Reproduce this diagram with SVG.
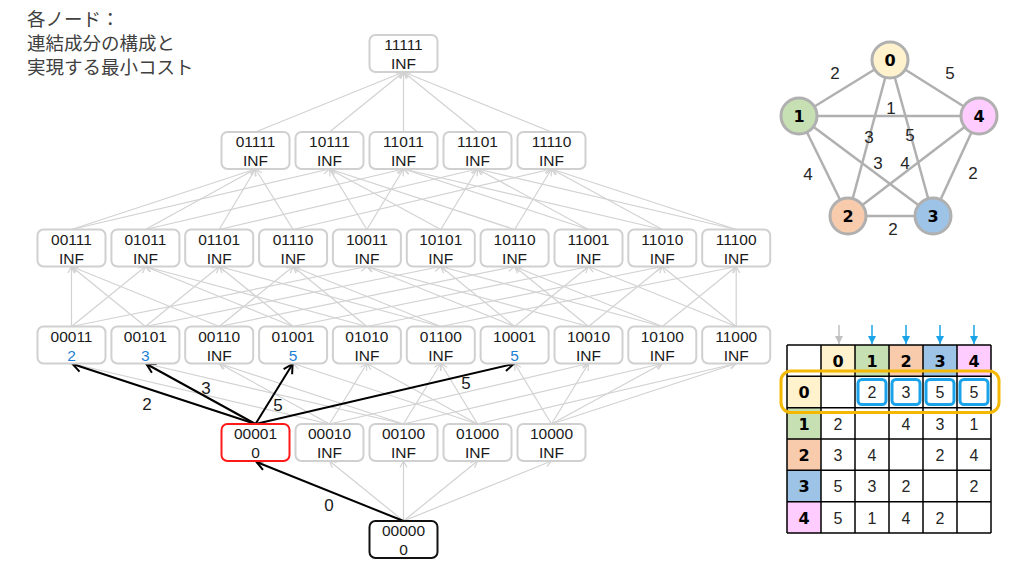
<svg xmlns="http://www.w3.org/2000/svg" width="1024" height="576" viewBox="0 0 1024 576">
<style>
.box{fill:#fff;stroke:#d0d0d0;stroke-width:2}
.t{font-family:"Liberation Sans",Arial,sans-serif;font-size:15.5px;fill:#1a1a1a;text-anchor:middle}
.blue{fill:#1e7fd6}
.g{stroke:#d2d2d2;stroke-width:1.2;fill:none;marker-end:url(#ag)}
.k{stroke:#000;stroke-width:2;fill:none;marker-end:url(#ak)}
.lbl{font-family:"Liberation Sans",Arial,sans-serif;font-size:17px;fill:#1a1a1a;text-anchor:middle}
.jp{font-family:"Liberation Sans","Noto Sans CJK JP",sans-serif;font-size:18.5px;fill:#404040}
.ge{stroke:#b0b0b0;stroke-width:2.5}
.gn{stroke:#b0b0b0;stroke-width:3}
.gl{font-family:"DejaVu Sans",sans-serif;font-weight:bold;font-size:16px;fill:#000;text-anchor:middle}
.wl{font-family:"Liberation Sans",Arial,sans-serif;font-size:17px;fill:#262626;text-anchor:middle}
.cell{stroke:#000;stroke-width:1.5}
.tv{font-family:"Liberation Sans",Arial,sans-serif;font-size:16px;fill:#262626;text-anchor:middle}
.th{font-family:"DejaVu Sans",sans-serif;font-weight:bold;font-size:16px;fill:#000;text-anchor:middle}
.sel{fill:none;stroke:#1aa3e8;stroke-width:3}
</style>
<defs>
<marker id="ag" markerWidth="9" markerHeight="9" refX="7.5" refY="4.5" orient="auto" markerUnits="userSpaceOnUse"><path d="M1,1 L7.5,4.5 L1,8" fill="none" stroke="#d2d2d2" stroke-width="1.2"/></marker>
<marker id="ak" markerWidth="14" markerHeight="14" refX="11" refY="7" orient="auto" markerUnits="userSpaceOnUse"><path d="M2,2 L11,7 L2,12" fill="none" stroke="#000" stroke-width="2"/></marker>
<marker id="ab" markerWidth="10" markerHeight="10" refX="9" refY="5" orient="auto" markerUnits="userSpaceOnUse"><path d="M1,1 L9,5 L1,9 Z" fill="#1aa3e8"/></marker>
<marker id="agr" markerWidth="10" markerHeight="10" refX="9" refY="5" orient="auto" markerUnits="userSpaceOnUse"><path d="M1,1 L9,5 L1,9 Z" fill="#c0c0c0"/></marker>
</defs>
<rect width="1024" height="576" fill="#fff"/>

<g id="caption">
<text class="jp" x="27" y="25.5">各ノード：</text>
<text class="jp" x="27" y="49.5">連結成分の構成と</text>
<text class="jp" x="27" y="73.5">実現する最小コスト</text>
</g>

<g id="connectors">
<line class="g" x1="403.5" y1="521" x2="329.5" y2="461"/>
<line class="g" x1="403.5" y1="521" x2="403.5" y2="461"/>
<line class="g" x1="403.5" y1="521" x2="477.5" y2="461"/>
<line class="g" x1="403.5" y1="521" x2="551.5" y2="461"/>
<line class="g" x1="329.5" y1="424" x2="71.5" y2="363.5"/>
<line class="g" x1="329.5" y1="424" x2="219.2" y2="363.5"/>
<line class="g" x1="329.5" y1="424" x2="366.9" y2="363.5"/>
<line class="g" x1="329.5" y1="424" x2="588.5" y2="363.5"/>
<line class="g" x1="403.5" y1="424" x2="145.4" y2="363.5"/>
<line class="g" x1="403.5" y1="424" x2="219.2" y2="363.5"/>
<line class="g" x1="403.5" y1="424" x2="440.8" y2="363.5"/>
<line class="g" x1="403.5" y1="424" x2="662.3" y2="363.5"/>
<line class="g" x1="477.5" y1="424" x2="293.1" y2="363.5"/>
<line class="g" x1="477.5" y1="424" x2="366.9" y2="363.5"/>
<line class="g" x1="477.5" y1="424" x2="440.8" y2="363.5"/>
<line class="g" x1="477.5" y1="424" x2="736.2" y2="363.5"/>
<line class="g" x1="551.5" y1="424" x2="514.6" y2="363.5"/>
<line class="g" x1="551.5" y1="424" x2="588.5" y2="363.5"/>
<line class="g" x1="551.5" y1="424" x2="662.3" y2="363.5"/>
<line class="g" x1="551.5" y1="424" x2="736.2" y2="363.5"/>
<line class="g" x1="71.5" y1="326.5" x2="71.5" y2="266.5"/>
<line class="g" x1="71.5" y1="326.5" x2="145.4" y2="266.5"/>
<line class="g" x1="71.5" y1="326.5" x2="366.9" y2="266.5"/>
<line class="g" x1="145.4" y1="326.5" x2="71.5" y2="266.5"/>
<line class="g" x1="145.4" y1="326.5" x2="219.2" y2="266.5"/>
<line class="g" x1="145.4" y1="326.5" x2="440.8" y2="266.5"/>
<line class="g" x1="219.2" y1="326.5" x2="71.5" y2="266.5"/>
<line class="g" x1="219.2" y1="326.5" x2="293.1" y2="266.5"/>
<line class="g" x1="219.2" y1="326.5" x2="514.6" y2="266.5"/>
<line class="g" x1="293.1" y1="326.5" x2="145.4" y2="266.5"/>
<line class="g" x1="293.1" y1="326.5" x2="219.2" y2="266.5"/>
<line class="g" x1="293.1" y1="326.5" x2="588.5" y2="266.5"/>
<line class="g" x1="366.9" y1="326.5" x2="145.4" y2="266.5"/>
<line class="g" x1="366.9" y1="326.5" x2="293.1" y2="266.5"/>
<line class="g" x1="366.9" y1="326.5" x2="662.3" y2="266.5"/>
<line class="g" x1="440.8" y1="326.5" x2="219.2" y2="266.5"/>
<line class="g" x1="440.8" y1="326.5" x2="293.1" y2="266.5"/>
<line class="g" x1="440.8" y1="326.5" x2="736.2" y2="266.5"/>
<line class="g" x1="514.6" y1="326.5" x2="366.9" y2="266.5"/>
<line class="g" x1="514.6" y1="326.5" x2="440.8" y2="266.5"/>
<line class="g" x1="514.6" y1="326.5" x2="588.5" y2="266.5"/>
<line class="g" x1="588.5" y1="326.5" x2="366.9" y2="266.5"/>
<line class="g" x1="588.5" y1="326.5" x2="514.6" y2="266.5"/>
<line class="g" x1="588.5" y1="326.5" x2="662.3" y2="266.5"/>
<line class="g" x1="662.3" y1="326.5" x2="440.8" y2="266.5"/>
<line class="g" x1="662.3" y1="326.5" x2="514.6" y2="266.5"/>
<line class="g" x1="662.3" y1="326.5" x2="736.2" y2="266.5"/>
<line class="g" x1="736.2" y1="326.5" x2="588.5" y2="266.5"/>
<line class="g" x1="736.2" y1="326.5" x2="662.3" y2="266.5"/>
<line class="g" x1="736.2" y1="326.5" x2="736.2" y2="266.5"/>
<line class="g" x1="71.5" y1="229.5" x2="255.5" y2="169"/>
<line class="g" x1="71.5" y1="229.5" x2="329.5" y2="169"/>
<line class="g" x1="145.4" y1="229.5" x2="255.5" y2="169"/>
<line class="g" x1="145.4" y1="229.5" x2="403.5" y2="169"/>
<line class="g" x1="219.2" y1="229.5" x2="255.5" y2="169"/>
<line class="g" x1="219.2" y1="229.5" x2="477.5" y2="169"/>
<line class="g" x1="293.1" y1="229.5" x2="255.5" y2="169"/>
<line class="g" x1="293.1" y1="229.5" x2="551.5" y2="169"/>
<line class="g" x1="366.9" y1="229.5" x2="329.5" y2="169"/>
<line class="g" x1="366.9" y1="229.5" x2="403.5" y2="169"/>
<line class="g" x1="440.8" y1="229.5" x2="329.5" y2="169"/>
<line class="g" x1="440.8" y1="229.5" x2="477.5" y2="169"/>
<line class="g" x1="514.6" y1="229.5" x2="329.5" y2="169"/>
<line class="g" x1="514.6" y1="229.5" x2="551.5" y2="169"/>
<line class="g" x1="588.5" y1="229.5" x2="403.5" y2="169"/>
<line class="g" x1="588.5" y1="229.5" x2="477.5" y2="169"/>
<line class="g" x1="662.3" y1="229.5" x2="403.5" y2="169"/>
<line class="g" x1="662.3" y1="229.5" x2="551.5" y2="169"/>
<line class="g" x1="736.2" y1="229.5" x2="477.5" y2="169"/>
<line class="g" x1="736.2" y1="229.5" x2="551.5" y2="169"/>
<line class="g" x1="255.5" y1="132" x2="403.5" y2="72"/>
<line class="g" x1="329.5" y1="132" x2="403.5" y2="72"/>
<line class="g" x1="403.5" y1="132" x2="403.5" y2="72"/>
<line class="g" x1="477.5" y1="132" x2="403.5" y2="72"/>
<line class="g" x1="551.5" y1="132" x2="403.5" y2="72"/>
<line class="k" x1="403.5" y1="521" x2="256.5" y2="462"/>
<line class="k" x1="255.5" y1="424" x2="72.5" y2="364"/>
<line class="k" x1="255.5" y1="424" x2="146.4" y2="364"/>
<line class="k" x1="255.5" y1="424" x2="292.6" y2="364"/>
<line class="k" x1="255.5" y1="424" x2="513.6" y2="364"/>
<text class="lbl" x="329" y="510.5">0</text>
<text class="lbl" x="147" y="409.5">2</text>
<text class="lbl" x="206" y="394">3</text>
<text class="lbl" x="278" y="411">5</text>
<text class="lbl" x="466" y="389">5</text>
</g>

<g id="n11111"><rect class="box" x="369.5" y="35" width="68" height="37" rx="6"/><text class="t" x="403.5" y="50">11111</text><text class="t" x="403.5" y="69">INF</text></g>

<g id="n01111"><rect class="box" x="221.5" y="132" width="68" height="37" rx="6"/><text class="t" x="255.5" y="147">01111</text><text class="t" x="255.5" y="166">INF</text></g>
<g id="n10111"><rect class="box" x="295.5" y="132" width="68" height="37" rx="6"/><text class="t" x="329.5" y="147">10111</text><text class="t" x="329.5" y="166">INF</text></g>
<g id="n11011"><rect class="box" x="369.5" y="132" width="68" height="37" rx="6"/><text class="t" x="403.5" y="147">11011</text><text class="t" x="403.5" y="166">INF</text></g>
<g id="n11101"><rect class="box" x="443.5" y="132" width="68" height="37" rx="6"/><text class="t" x="477.5" y="147">11101</text><text class="t" x="477.5" y="166">INF</text></g>
<g id="n11110"><rect class="box" x="517.5" y="132" width="68" height="37" rx="6"/><text class="t" x="551.5" y="147">11110</text><text class="t" x="551.5" y="166">INF</text></g>

<g id="n00111"><rect class="box" x="37.5" y="229.5" width="68" height="37" rx="6"/><text class="t" x="71.5" y="244.5">00111</text><text class="t" x="71.5" y="263.5">INF</text></g>
<g id="n01011"><rect class="box" x="111.4" y="229.5" width="68" height="37" rx="6"/><text class="t" x="145.4" y="244.5">01011</text><text class="t" x="145.4" y="263.5">INF</text></g>
<g id="n01101"><rect class="box" x="185.2" y="229.5" width="68" height="37" rx="6"/><text class="t" x="219.2" y="244.5">01101</text><text class="t" x="219.2" y="263.5">INF</text></g>
<g id="n01110"><rect class="box" x="259.1" y="229.5" width="68" height="37" rx="6"/><text class="t" x="293.1" y="244.5">01110</text><text class="t" x="293.1" y="263.5">INF</text></g>
<g id="n10011"><rect class="box" x="332.9" y="229.5" width="68" height="37" rx="6"/><text class="t" x="366.9" y="244.5">10011</text><text class="t" x="366.9" y="263.5">INF</text></g>
<g id="n10101"><rect class="box" x="406.8" y="229.5" width="68" height="37" rx="6"/><text class="t" x="440.8" y="244.5">10101</text><text class="t" x="440.8" y="263.5">INF</text></g>
<g id="n10110"><rect class="box" x="480.6" y="229.5" width="68" height="37" rx="6"/><text class="t" x="514.6" y="244.5">10110</text><text class="t" x="514.6" y="263.5">INF</text></g>
<g id="n11001"><rect class="box" x="554.5" y="229.5" width="68" height="37" rx="6"/><text class="t" x="588.5" y="244.5">11001</text><text class="t" x="588.5" y="263.5">INF</text></g>
<g id="n11010"><rect class="box" x="628.3" y="229.5" width="68" height="37" rx="6"/><text class="t" x="662.3" y="244.5">11010</text><text class="t" x="662.3" y="263.5">INF</text></g>
<g id="n11100"><rect class="box" x="702.2" y="229.5" width="68" height="37" rx="6"/><text class="t" x="736.2" y="244.5">11100</text><text class="t" x="736.2" y="263.5">INF</text></g>

<g id="n00011"><rect class="box" x="37.5" y="326.5" width="68" height="37" rx="6"/><text class="t" x="71.5" y="341.5">00011</text><text class="t blue" x="71.5" y="360.5">2</text></g>
<g id="n00101"><rect class="box" x="111.4" y="326.5" width="68" height="37" rx="6"/><text class="t" x="145.4" y="341.5">00101</text><text class="t blue" x="145.4" y="360.5">3</text></g>
<g id="n00110"><rect class="box" x="185.2" y="326.5" width="68" height="37" rx="6"/><text class="t" x="219.2" y="341.5">00110</text><text class="t" x="219.2" y="360.5">INF</text></g>
<g id="n01001"><rect class="box" x="259.1" y="326.5" width="68" height="37" rx="6"/><text class="t" x="293.1" y="341.5">01001</text><text class="t blue" x="293.1" y="360.5">5</text></g>
<g id="n01010"><rect class="box" x="332.9" y="326.5" width="68" height="37" rx="6"/><text class="t" x="366.9" y="341.5">01010</text><text class="t" x="366.9" y="360.5">INF</text></g>
<g id="n01100"><rect class="box" x="406.8" y="326.5" width="68" height="37" rx="6"/><text class="t" x="440.8" y="341.5">01100</text><text class="t" x="440.8" y="360.5">INF</text></g>
<g id="n10001"><rect class="box" x="480.6" y="326.5" width="68" height="37" rx="6"/><text class="t" x="514.6" y="341.5">10001</text><text class="t blue" x="514.6" y="360.5">5</text></g>
<g id="n10010"><rect class="box" x="554.5" y="326.5" width="68" height="37" rx="6"/><text class="t" x="588.5" y="341.5">10010</text><text class="t" x="588.5" y="360.5">INF</text></g>
<g id="n10100"><rect class="box" x="628.3" y="326.5" width="68" height="37" rx="6"/><text class="t" x="662.3" y="341.5">10100</text><text class="t" x="662.3" y="360.5">INF</text></g>
<g id="n11000"><rect class="box" x="702.2" y="326.5" width="68" height="37" rx="6"/><text class="t" x="736.2" y="341.5">11000</text><text class="t" x="736.2" y="360.5">INF</text></g>

<g id="n00001"><rect class="box" style="stroke:#ff1a1a" x="221.5" y="424" width="68" height="37" rx="6"/><text class="t" x="255.5" y="439">00001</text><text class="t" x="255.5" y="458">0</text></g>
<g id="n00010"><rect class="box" x="295.5" y="424" width="68" height="37" rx="6"/><text class="t" x="329.5" y="439">00010</text><text class="t" x="329.5" y="458">INF</text></g>
<g id="n00100"><rect class="box" x="369.5" y="424" width="68" height="37" rx="6"/><text class="t" x="403.5" y="439">00100</text><text class="t" x="403.5" y="458">INF</text></g>
<g id="n01000"><rect class="box" x="443.5" y="424" width="68" height="37" rx="6"/><text class="t" x="477.5" y="439">01000</text><text class="t" x="477.5" y="458">INF</text></g>
<g id="n10000"><rect class="box" x="517.5" y="424" width="68" height="37" rx="6"/><text class="t" x="551.5" y="439">10000</text><text class="t" x="551.5" y="458">INF</text></g>

<g id="n00000"><rect class="box" style="stroke:#111" x="369.5" y="521" width="68" height="37" rx="6"/><text class="t" x="403.5" y="536">00000</text><text class="t" x="403.5" y="555">0</text></g>

<g id="graph">
<line class="ge" x1="890" y1="60" x2="799" y2="116"/>
<line class="ge" x1="890" y1="60" x2="979" y2="116"/>
<line class="ge" x1="890" y1="60" x2="848" y2="216"/>
<line class="ge" x1="890" y1="60" x2="933" y2="216"/>
<line class="ge" x1="799" y1="116" x2="979" y2="116"/>
<line class="ge" x1="799" y1="116" x2="848" y2="216"/>
<line class="ge" x1="799" y1="116" x2="933" y2="216"/>
<line class="ge" x1="979" y1="116" x2="848" y2="216"/>
<line class="ge" x1="979" y1="116" x2="933" y2="216"/>
<line class="ge" x1="848" y1="216" x2="933" y2="216"/>
<text class="wl" x="835" y="79">2</text>
<text class="wl" x="950" y="79">5</text>
<text class="wl" x="891" y="114">1</text>
<text class="wl" x="869" y="143">3</text>
<text class="wl" x="910" y="141">5</text>
<text class="wl" x="878" y="169">3</text>
<text class="wl" x="905" y="169">4</text>
<text class="wl" x="808" y="180">4</text>
<text class="wl" x="973" y="179">2</text>
<text class="wl" x="893" y="235">2</text>
<g id="v0"><circle class="gn" cx="890" cy="60" r="18" fill="#fff2cc"/><text class="gl" x="890" y="66">0</text></g>
<g id="v1"><circle class="gn" cx="799" cy="116" r="18" fill="#c6e0b4"/><text class="gl" x="799" y="122">1</text></g>
<g id="v4"><circle class="gn" cx="979" cy="116" r="18" fill="#ffccff"/><text class="gl" x="979" y="122">4</text></g>
<g id="v2"><circle class="gn" cx="848" cy="216" r="18" fill="#f8cbad"/><text class="gl" x="848" y="222">2</text></g>
<g id="v3"><circle class="gn" cx="933" cy="216" r="18" fill="#9dc3e6"/><text class="gl" x="933" y="222">3</text></g>
</g>

<g id="table">
<line x1="839" y1="325" x2="839" y2="344" stroke="#c0c0c0" stroke-width="1.5" marker-end="url(#agr)"/>
<line x1="872" y1="325" x2="872" y2="344" stroke="#1aa3e8" stroke-width="1.5" marker-end="url(#ab)"/>
<line x1="906" y1="325" x2="906" y2="344" stroke="#1aa3e8" stroke-width="1.5" marker-end="url(#ab)"/>
<line x1="940" y1="325" x2="940" y2="344" stroke="#1aa3e8" stroke-width="1.5" marker-end="url(#ab)"/>
<line x1="974" y1="325" x2="974" y2="344" stroke="#1aa3e8" stroke-width="1.5" marker-end="url(#ab)"/>
<rect x="787" y="345" width="34" height="31.3" fill="#fff"/>
<rect x="821" y="345" width="34" height="31.3" fill="#fff2cc"/>
<rect x="855" y="345" width="34" height="31.3" fill="#c6e0b4"/>
<rect x="889" y="345" width="34" height="31.3" fill="#f8cbad"/>
<rect x="923" y="345" width="34" height="31.3" fill="#9dc3e6"/>
<rect x="957" y="345" width="34" height="31.3" fill="#ffccff"/>
<rect x="787" y="376.3" width="34" height="31.3" fill="#fff2cc"/>
<rect x="787" y="407.7" width="34" height="31.3" fill="#c6e0b4"/>
<rect x="787" y="439" width="34" height="31.3" fill="#f8cbad"/>
<rect x="787" y="470.3" width="34" height="31.3" fill="#9dc3e6"/>
<rect x="787" y="501.7" width="34" height="31.3" fill="#ffccff"/>
<g class="cell">
<line x1="787" y1="345" x2="991" y2="345"/>
<line x1="787" y1="376.3" x2="991" y2="376.3"/>
<line x1="787" y1="407.7" x2="991" y2="407.7"/>
<line x1="787" y1="439" x2="991" y2="439"/>
<line x1="787" y1="470.3" x2="991" y2="470.3"/>
<line x1="787" y1="501.7" x2="991" y2="501.7"/>
<line x1="787" y1="533" x2="991" y2="533"/>
<line x1="787" y1="345" x2="787" y2="533"/>
<line x1="821" y1="345" x2="821" y2="533"/>
<line x1="855" y1="345" x2="855" y2="533"/>
<line x1="889" y1="345" x2="889" y2="533"/>
<line x1="923" y1="345" x2="923" y2="533"/>
<line x1="957" y1="345" x2="957" y2="533"/>
<line x1="991" y1="345" x2="991" y2="533"/>
</g>
<text class="th" x="838" y="367">0</text>
<text class="th" x="872" y="367">1</text>
<text class="th" x="906" y="367">2</text>
<text class="th" x="940" y="367">3</text>
<text class="th" x="974" y="367">4</text>
<text class="th" x="804" y="398">0</text>
<text class="th" x="804" y="429.5">1</text>
<text class="th" x="804" y="460.5">2</text>
<text class="th" x="804" y="492">3</text>
<text class="th" x="804" y="523.5">4</text>
<text class="tv" x="872" y="398">2</text>
<text class="tv" x="906" y="398">3</text>
<text class="tv" x="940" y="398">5</text>
<text class="tv" x="974" y="398">5</text>
<text class="tv" x="838" y="429.5">2</text>
<text class="tv" x="906" y="429.5">4</text>
<text class="tv" x="940" y="429.5">3</text>
<text class="tv" x="974" y="429.5">1</text>
<text class="tv" x="838" y="460.5">3</text>
<text class="tv" x="872" y="460.5">4</text>
<text class="tv" x="940" y="460.5">2</text>
<text class="tv" x="974" y="460.5">4</text>
<text class="tv" x="838" y="492">5</text>
<text class="tv" x="872" y="492">3</text>
<text class="tv" x="906" y="492">2</text>
<text class="tv" x="974" y="492">2</text>
<text class="tv" x="838" y="523.5">5</text>
<text class="tv" x="872" y="523.5">1</text>
<text class="tv" x="906" y="523.5">4</text>
<text class="tv" x="940" y="523.5">2</text>
<rect class="sel" x="858" y="379.5" width="28" height="25" rx="4"/>
<rect class="sel" x="892" y="379.5" width="28" height="25" rx="4"/>
<rect class="sel" x="926" y="379.5" width="28" height="25" rx="4"/>
<rect class="sel" x="960" y="379.5" width="28" height="25" rx="4"/>
<rect x="781" y="371" width="218" height="41.5" rx="10" fill="none" stroke="#f5b800" stroke-width="3"/>
</g>
</svg>
